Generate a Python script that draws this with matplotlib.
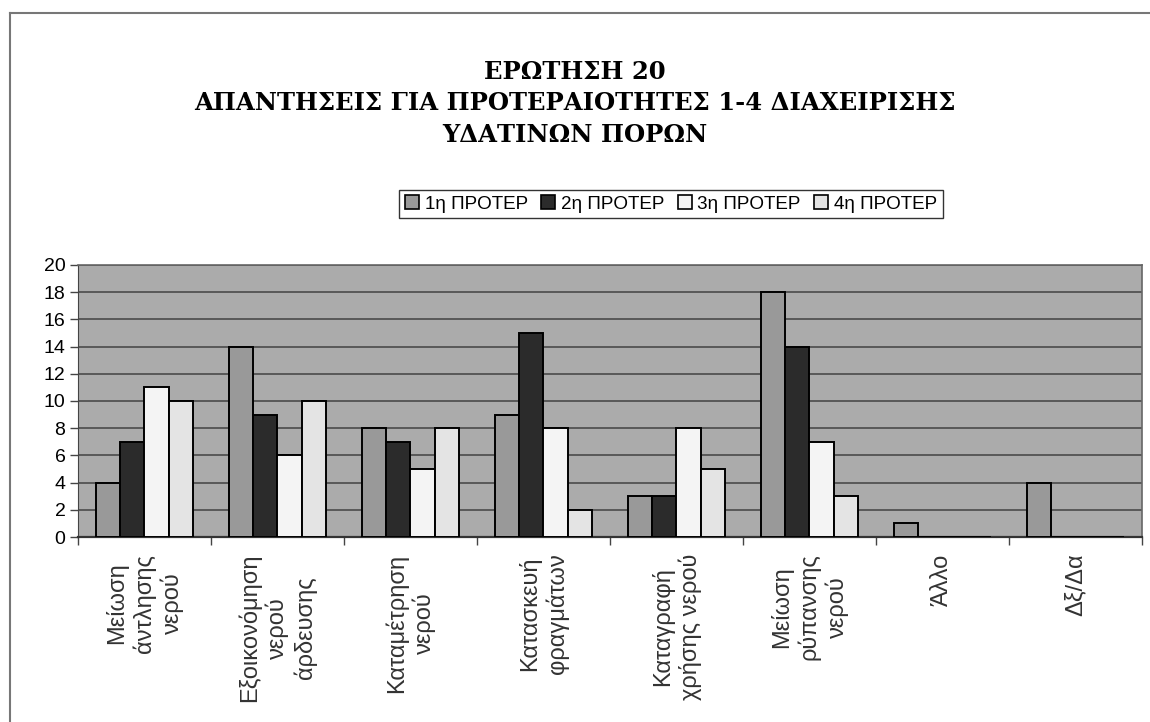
import matplotlib.pyplot as plt
import numpy as np
from matplotlib.lines import Line2D
from matplotlib.patches import Patch

plt.rcParams['font.family'] = ['Liberation Sans', 'DejaVu Sans']

# answers per management option, one list per priority rank
categories = ['Μείωση\nάντλησης\nνερού',
              'Εξοικονόμηση\nνερού\nάρδευσης',
              'Καταμέτρηση\nνερού',
              'Κατασκευή\nφραγμάτων',
              'Καταγραφή\nχρήσης νερού',
              'Μείωση\nρύπανσης\nνερού',
              'Άλλο',
              'Δξ/Δα']
series_names = ['1η ΠΡΟΤΕΡ', '2η ΠΡΟΤΕΡ', '3η ΠΡΟΤΕΡ', '4η ΠΡΟΤΕΡ']
prio1 = [4, 14, 8, 9, 3, 18, 1, 4]
prio2 = [7, 9, 7, 15, 3, 14, 0, 0]
prio3 = [11, 6, 5, 8, 8, 7, 0, 0]
prio4 = [10, 10, 8, 2, 5, 3, 0, 0]
y_ticks = [0, 2, 4, 6, 8, 10, 12, 14, 16, 18, 20]

title_lines = ['ΕΡΩΤΗΣΗ 20',
               'ΑΠΑΝΤΗΣΕΙΣ ΓΙΑ ΠΡΟΤΕΡΑΙΟΤΗΤΕΣ 1-4 ΔΙΑΧΕΙΡΙΣΗΣ',
               'ΥΔΑΤΙΝΩΝ ΠΟΡΩΝ']

colors = ['#999999', '#2b2b2b', '#f4f4f4', '#e4e4e4']

fig = plt.figure(figsize=(11.5, 7.22), dpi=100)
ax = fig.add_axes([0.0678, 0.2562, 0.925, 0.3768])
ax.set_facecolor('#ababab')

x = np.arange(len(categories))
w = 0.183
for i, vals in enumerate([prio1, prio2, prio3, prio4]):
    ax.bar(x + (i - 1.5) * w, vals, width=w, color=colors[i],
           edgecolor='black', linewidth=1.4, zorder=3)

ax.set_xlim(-0.5, len(categories) - 0.5)
ax.set_ylim(0, 20)
ax.set_yticks(y_ticks)
ax.yaxis.grid(True, color='#4a4a4a', linewidth=1.2, zorder=1)
ax.tick_params(axis='y', labelsize=14, length=6, width=1, color='#444444',
               pad=3)

# category labels at the centres, tick marks at the boundaries
ax.set_xticks(x)
ax.set_xticklabels(categories, rotation=90, fontsize=17, color='#333333',
                   multialignment='center', linespacing=1.25)
ax.tick_params(axis='x', which='major', length=0, pad=12)
ax.set_xticks(np.arange(-0.5, len(categories)), minor=True)
ax.tick_params(axis='x', which='minor', length=6, width=1, color='#444444')

for s in ['top', 'right']:
    ax.spines[s].set_color('#666666')
    ax.spines[s].set_linewidth(1.2)
ax.spines['left'].set_color('#444444')
ax.spines['bottom'].set_color('#333333')
ax.spines['bottom'].set_linewidth(1.6)

# title in three lines
for k, line in enumerate(title_lines):
    fig.text(0.5, 1 - (72 + 31.5 * k) / 722, line, ha='center', va='center',
             fontsize=17.5, fontweight='bold', family='DejaVu Serif')

handles = [Patch(facecolor=c, edgecolor='black', linewidth=1.2) for c in colors]
leg = fig.legend(handles, series_names, loc='center',
                 bbox_to_anchor=(0.5835, 0.7175), ncol=4, fontsize=13.6,
                 frameon=True, fancybox=False, edgecolor='black',
                 handlelength=0.75, handleheight=0.75, handletextpad=0.3,
                 columnspacing=0.7, borderpad=0.3, borderaxespad=0)
leg.get_frame().set_linewidth(1.0)

# chart border on the left and top
fig.add_artist(Line2D([10 / 1150, 10 / 1150], [0, 1 - 13 / 722],
                      transform=fig.transFigure, color='#777777', lw=1.5))
fig.add_artist(Line2D([10 / 1150, 1], [1 - 13 / 722, 1 - 13 / 722],
                      transform=fig.transFigure, color='#777777', lw=1.5))

fig.savefig('out.png', dpi=100)
